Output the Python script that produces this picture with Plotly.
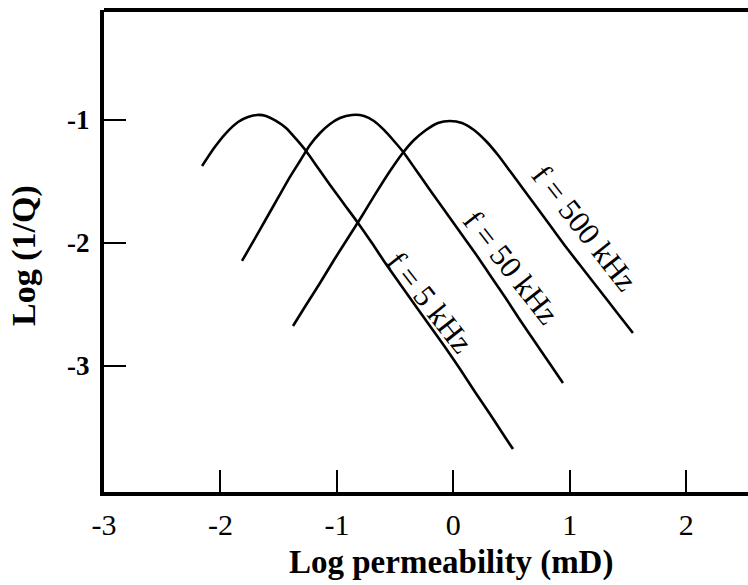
import plotly.graph_objects as go

# Attenuation curves: log(1/Q) versus log permeability for three frequencies
x_5khz = [-2.158, -2.055, -1.952, -1.849, -1.764, -1.686, -1.609, -1.523, -1.437,
          -1.351, -1.265, -1.162, -1.059, -0.939, -0.819, -0.699, -0.579, -0.458,
          -0.330, -0.201, -0.072, 0.057, 0.186, 0.314, 0.443, 0.512]
y_5khz = [-1.374, -1.228, -1.106, -1.016, -0.976, -0.959, -0.967, -1.008, -1.065,
          -1.154, -1.252, -1.390, -1.528, -1.683, -1.837, -2.000, -2.171, -2.333,
          -2.504, -2.675, -2.846, -3.024, -3.211, -3.390, -3.577, -3.675]

x_50khz = [-1.815, -1.712, -1.609, -1.506, -1.403, -1.317, -1.231, -1.145, -1.059,
           -0.974, -0.871, -0.767, -0.682, -0.596, -0.510, -0.424, -0.321, -0.201,
           -0.072, 0.057, 0.186, 0.314, 0.443, 0.572, 0.701, 0.830, 0.941]
y_50khz = [-2.146, -1.976, -1.805, -1.634, -1.463, -1.333, -1.203, -1.106, -1.033,
           -0.984, -0.959, -0.967, -1.008, -1.081, -1.171, -1.268, -1.407, -1.569,
           -1.740, -1.911, -2.081, -2.260, -2.439, -2.626, -2.805, -2.984, -3.138]

x_500khz = [-1.377, -1.265, -1.145, -1.025, -0.905, -0.785, -0.664, -0.544, -0.441,
            -0.338, -0.235, -0.132, -0.029, 0.074, 0.177, 0.280, 0.383, 0.486,
            0.606, 0.727, 0.847, 0.967, 1.087, 1.207, 1.328, 1.448, 1.542]
y_500khz = [-2.675, -2.504, -2.325, -2.138, -1.959, -1.780, -1.593, -1.415, -1.276,
            -1.163, -1.081, -1.024, -1.008, -1.024, -1.081, -1.171, -1.285, -1.415,
            -1.569, -1.724, -1.878, -2.033, -2.179, -2.325, -2.472, -2.618, -2.732]

curve_labels = ["f = 5 kHz", "f = 50 kHz", "f = 500 kHz"]
label_x = [-0.20, 0.495, 1.13]
label_y = [-2.48, -2.20, -1.88]

x_ticks = [-3, -2, -1, 0, 1, 2]
y_ticks = [-1, -2, -3]

SERIF = "Liberation Serif"

fig = go.Figure()
for xs, ys in [(x_5khz, y_5khz), (x_50khz, y_50khz), (x_500khz, y_500khz)]:
    fig.add_trace(go.Scatter(
        x=xs, y=ys, mode="lines",
        line=dict(color="black", width=2.6, shape="spline", smoothing=0.6),
        showlegend=False, hoverinfo="skip",
    ))

for text, lx, ly in zip(curve_labels, label_x, label_y):
    fig.add_annotation(
        x=lx, y=ly, xref="x", yref="y", text=text, showarrow=False,
        textangle=52, xanchor="center", yanchor="middle",
        font=dict(family=SERIF, size=31, color="black"),
    )

# Axis titles
fig.add_annotation(
    x=0.539, y=-0.147, xref="paper", yref="paper",
    text="Log permeability (mD)", showarrow=False,
    xanchor="center", yanchor="middle",
    font=dict(family=SERIF, size=33, color="black", weight="bold"),
)
fig.add_annotation(
    x=-0.124, y=0.49, xref="paper", yref="paper",
    text="Log (1/Q)", showarrow=False, textangle=-90,
    xanchor="center", yanchor="middle",
    font=dict(family=SERIF, size=34, color="black", weight="bold"),
)

# Top frame line (the right side stays open)
fig.add_shape(type="line", xref="paper", yref="paper", x0=0, x1=1, y0=1, y1=1,
              line=dict(color="black", width=4))

fig.update_xaxes(
    range=[-3, 2.53], tickvals=x_ticks, ticktext=[str(v) for v in x_ticks],
    showline=True, linecolor="black", linewidth=4,
    ticks="inside", ticklen=22, tickwidth=1.6, tickcolor="black",
    showgrid=False, zeroline=False,
    tickfont=dict(family=SERIF, size=30, color="black"),
    ticklabelstandoff=3,
)
fig.update_yaxes(
    range=[-4.024, -0.106], tickvals=y_ticks, ticktext=[str(v) for v in y_ticks],
    showline=True, linecolor="black", linewidth=4,
    ticks="inside", ticklen=22, tickwidth=1.6, tickcolor="black",
    showgrid=False, zeroline=False,
    tickfont=dict(family=SERIF, size=27, color="black", weight="bold"),
    ticklabelstandoff=5,
)

fig.update_layout(
    width=748, height=585,
    margin=dict(l=104, r=0, t=10, b=93),
    paper_bgcolor="white", plot_bgcolor="white",
)

fig.write_html("out.html")
